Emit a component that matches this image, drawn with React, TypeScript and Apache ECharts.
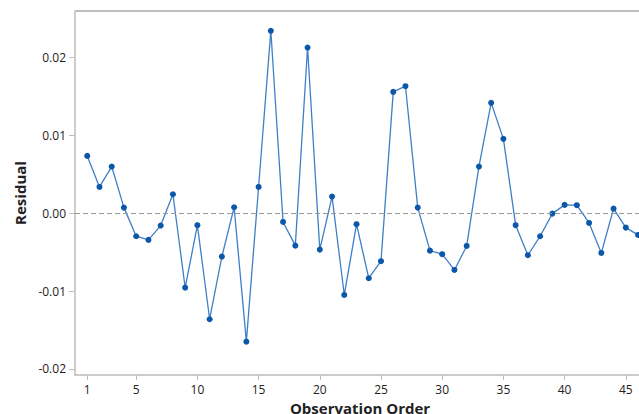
import React, { useEffect, useRef } from "react";
import * as echarts from "echarts";

const observations: number[] = Array.from({ length: 46 }, (_, i) => i + 1);
const residuals: number[] = [
  0.00737, 0.00338, 0.006, 0.00072, -0.00296, -0.00343, -0.00159, 0.00244, -0.00957, -0.00154,
  -0.01363, -0.00558, 0.00077, -0.01651, 0.00338, 0.02345, -0.00112, -0.00417, 0.0213, -0.00468,
  0.00214, -0.01051, -0.00141, -0.00836, -0.00617, 0.0156, 0.01633, 0.00072, -0.00481, -0.00527,
  -0.00729, -0.00421, 0.006, 0.01419, 0.00956, -0.00154, -0.0054, -0.00296, -0.00005, 0.00107,
  0.00103, -0.00125, -0.00511, 0.00059, -0.00185, -0.00279,
];
const xTicks: number[] = [1, 5, 10, 15, 20, 25, 30, 35, 40, 45];
const yTicks: number[] = [-0.02, -0.01, 0, 0.01, 0.02];

const FONT = "'Open Sans', 'Noto Sans', sans-serif";

export default function App() {
  const ref = useRef<HTMLDivElement>(null);
  useEffect(() => {
    if (!ref.current) return;
    const chart = echarts.init(ref.current, undefined, { renderer: "svg" });
    const frame = "#bdbdbd";
    chart.setOption({
      animation: false,
      backgroundColor: "#ffffff",
      grid: { left: 75, top: 11, width: 612, height: 364 },
      xAxis: {
        type: "value",
        min: 0,
        max: 50,
        axisLine: { show: true, onZero: false, lineStyle: { color: frame, width: 1.5 } },
        axisTick: { show: true, customValues: xTicks, length: 5, lineStyle: { color: frame } },
        axisLabel: {
          customValues: xTicks,
          color: "#222",
          fontSize: 12,
          fontFamily: FONT,
          margin: 8,
        },
        splitLine: { show: false },
      },
      yAxis: {
        type: "value",
        min: -0.0208,
        max: 0.026,
        axisLine: { show: true, onZero: false, lineStyle: { color: frame, width: 1.5 } },
        axisTick: { show: true, customValues: yTicks, length: 6, lineStyle: { color: frame } },
        axisLabel: {
          customValues: yTicks,
          color: "#222",
          fontSize: 12,
          fontFamily: FONT,
          margin: 9,
          formatter: (v: number) => v.toFixed(2),
        },
        splitLine: { show: false },
      },
      graphic: [
        {
          type: "line",
          shape: { x1: 75, y1: 11, x2: 700, y2: 11 },
          style: { stroke: frame, lineWidth: 2 },
          z: 10,
        },
        {
          type: "text",
          x: 20,
          y: 193,
          rotation: Math.PI / 2,
          style: {
            text: "Residual",
            font: `bold 15px ${FONT}`,
            fill: "#222",
            textAlign: "center",
            textVerticalAlign: "middle",
          },
        },
        {
          type: "text",
          x: 360,
          y: 400,
          style: {
            text: "Observation Order",
            font: `bold 15px ${FONT}`,
            fill: "#222",
            textAlign: "center",
            textVerticalAlign: "top",
          },
        },
      ],
      series: [
        {
          type: "line",
          data: observations.map((o, i) => [o, residuals[i]]),
          symbol: "circle",
          symbolSize: 6,
          showAllSymbol: true,
          lineStyle: { color: "#3f7fc6", width: 1.3 },
          itemStyle: { color: "#0b57a8" },
          markLine: {
            silent: true,
            symbol: "none",
            label: { show: false },
            lineStyle: { color: "#999", type: [5, 3], width: 1 },
            data: [{ yAxis: 0 }],
          },
          z: 3,
        },
      ],
    });
    return () => chart.dispose();
  }, []);
  return (
    <div
      style={{
        position: "absolute",
        left: 0,
        top: 0,
        width: 639,
        height: 414,
        overflow: "hidden",
        background: "#fff",
      }}
    >
      <div ref={ref} style={{ width: 700, height: 414 }} />
    </div>
  );
}
